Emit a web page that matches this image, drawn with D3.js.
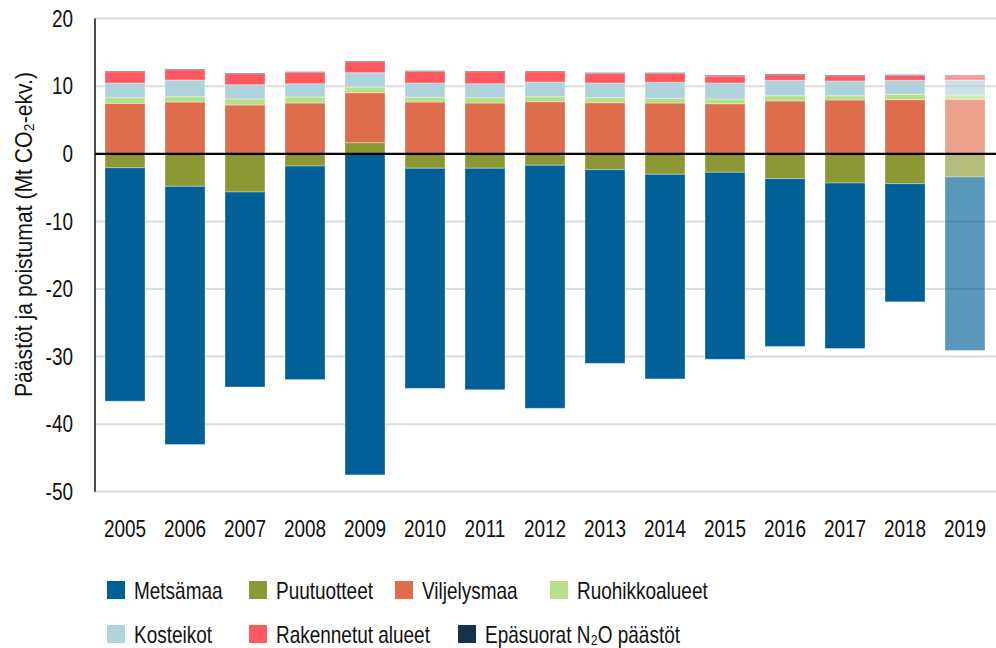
<!DOCTYPE html>
<html><head><meta charset="utf-8">
<script src="https://cdn.jsdelivr.net/npm/d3@7/dist/d3.min.js"></script>
<style>
html,body{margin:0;padding:0;background:#fff;}
svg text{font-family:"Liberation Sans",Arial,sans-serif;fill:#111;}
</style></head>
<body>
<svg id="c" width="996" height="648"></svg>
<script>
const years = ["2005","2006","2007","2008","2009","2010","2011","2012","2013","2014","2015","2016","2017","2018","2019"];
const metsamaa    = [-34.54,-38.19,-28.85,-31.60,-47.50,-32.56,-32.76,-35.95,-28.65,-30.27,-27.66,-24.82,-24.48,-17.48,-25.67];
const puutuotteet = [-2.06,-4.81,-5.65,-1.80,1.64,-2.14,-2.14,-1.70,-2.35,-3.03,-2.74,-3.68,-4.32,-4.42,-3.43];
const viljelysmaa = [7.47,7.66,7.22,7.51,7.40,7.66,7.51,7.71,7.56,7.51,7.41,7.81,7.96,8.00,8.06];
const ruohikko    = [0.83,0.79,0.89,0.89,0.84,0.70,0.79,0.74,0.74,0.70,0.70,0.78,0.63,0.80,0.64];
const kosteikot   = [2.17,2.47,2.11,1.97,2.12,2.11,2.07,2.17,2.17,2.37,2.36,2.28,2.18,2.07,2.22];
const rakennetut  = [1.68,1.52,1.63,1.67,1.63,1.72,1.78,1.53,1.43,1.32,1.04,0.83,0.79,0.73,0.64];
const n2o         = [0.10,0.10,0.10,0.10,0.10,0.10,0.10,0.10,0.10,0.10,0.10,0.10,0.10,0.10,0.11];
const yTicks = [20,10,0,-10,-20,-30,-40,-50];
const seriesNames = ["Metsämaa","Puutuotteet","Viljelysmaa","Ruohikkoalueet","Kosteikot","Rakennetut alueet","Epäsuorat N₂O päästöt"];
const seriesColors = ["#005f96","#8c9834","#df6d4b","#b6e088","#aed3dc","#ff5861","#14334a"];
const seriesValues = [metsamaa,puutuotteet,viljelysmaa,ruohikko,kosteikot,rakennetut,n2o];
const yTitle = "Päästöt ja poistumat (Mt CO₂-ekv.)";
// stacking order: wood products sit next to zero
const stackOrder = [1,0,2,3,4,5,6];

const svg = d3.select("#c");
const FS = 24;
const SQUEEZE = 0.79;
const x = d3.scaleBand().domain(years).range([95,995]).paddingInner(1/3).paddingOuter(1/6);
const y = d3.scaleLinear().domain([-50,20]).range([491.8,18.6]);

const table = years.map((yr,i)=>{
  const o = {year:yr, idx:i};
  seriesNames.forEach((s,k)=>o[s]=seriesValues[k][i]);
  return o;
});
const stack = d3.stack().keys(stackOrder.map(k=>seriesNames[k])).offset(d3.stackOffsetDiverging);
const layers = stack(table);

// grid
svg.append("g").selectAll("line").data(yTicks.filter(t=>t!==0)).join("line")
  .attr("x1",95).attr("x2",996).attr("y1",d=>y(d)).attr("y2",d=>y(d))
  .attr("stroke","#dcdcdc").attr("stroke-width",2);

// bars
const gBars = svg.append("g");
layers.forEach(layer=>{
  const col = seriesColors[seriesNames.indexOf(layer.key)];
  gBars.append("g").selectAll("rect").data(layer).join("rect")
    .attr("x",d=>x(d.data.year))
    .attr("width",x.bandwidth())
    .attr("y",d=>y(Math.max(d[0],d[1])))
    .attr("height",d=>Math.abs(y(d[0])-y(d[1])))
    .attr("fill",col)
    .attr("fill-opacity",d=>d.data.year==="2019"?0.65:1)
    .attr("stroke","#ffffff").attr("stroke-opacity",0.35).attr("stroke-width",1);
});

// zero line
svg.append("line").attr("x1",95).attr("x2",996).attr("y1",y(0)).attr("y2",y(0))
  .attr("stroke","#000").attr("stroke-width",2.2);
// left axis line
svg.append("line").attr("x1",95).attr("x2",95).attr("y1",y(20)).attr("y2",y(-50))
  .attr("stroke","#222").attr("stroke-width",1.6);

// y axis labels
const ya = svg.append("g").attr("transform","translate(95,0)")
  .call(d3.axisLeft(y).tickValues(yTicks).tickSize(0).tickPadding(22).tickFormat(d=>String(d)));
ya.select(".domain").remove();
ya.attr("font-family",null).attr("font-size",null);
ya.selectAll("text").attr("font-size",FS).attr("fill","#111");

// x axis labels
const xa = svg.append("g").attr("transform",`translate(0,${y(-50)})`)
  .call(d3.axisBottom(x).tickSize(0).tickPadding(28));
xa.select(".domain").remove();
xa.attr("font-family",null).attr("font-size",null);
xa.selectAll("text").attr("font-size",FS).attr("fill","#111");

// legend
const legendX = [[107,249,395,550],[107,249,458]];
const legendY = [581,625];
seriesNames.forEach((s,k)=>{
  const row = k<4?0:1, colI = k<4?k:k-4;
  const g = svg.append("g").attr("transform",`translate(${legendX[row][colI]},${legendY[row]})`);
  g.append("rect").attr("width",18).attr("height",18).attr("fill",seriesColors[k]);
  g.append("text").attr("x",27).attr("y",17.5).attr("font-size",FS).text(s);
});

// emulate condensed typeface by compressing glyphs horizontally
svg.selectAll("text").each(function(){
  const w = this.getComputedTextLength();
  if(w>0){
    this.setAttribute("textLength",(w*SQUEEZE).toFixed(2));
    this.setAttribute("lengthAdjust","spacingAndGlyphs");
  }
});

// y title (spans the same length as in the original layout)
svg.append("text").attr("transform","translate(32,234.5) rotate(-90)")
  .attr("text-anchor","middle").attr("font-size",FS)
  .attr("textLength",325).attr("lengthAdjust","spacingAndGlyphs").text(yTitle);
</script>
</body></html>
